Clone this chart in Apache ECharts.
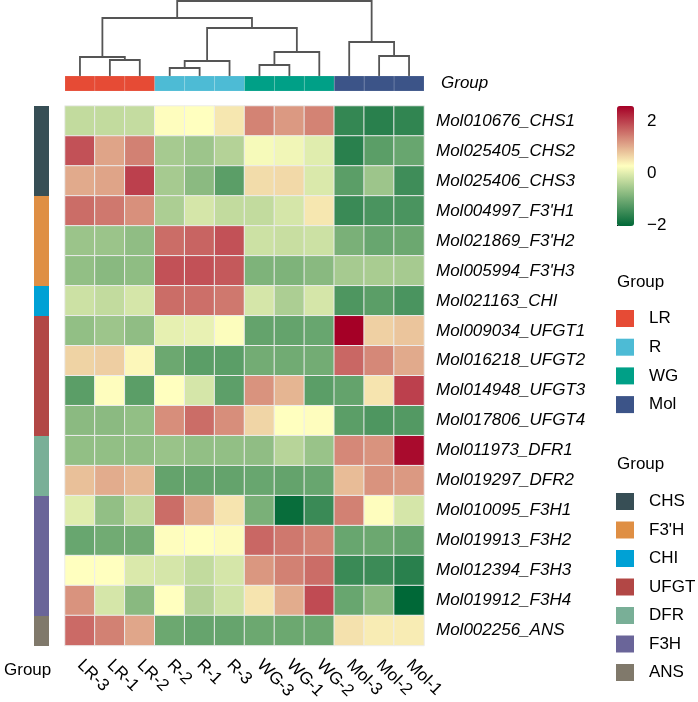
<!DOCTYPE html>
<html>
<head>
<meta charset="utf-8">
<script src="https://cdn.jsdelivr.net/npm/echarts@6.0.0/dist/echarts.min.js"></script>
<style>
  html, body { margin: 0; padding: 0; background: #fff; }
  #chart { width: 698px; height: 702px; }
</style>
</head>
<body>
<div id="chart"></div>
<script>
// samples (columns), in dendrogram order
const colNames = ['LR-3', 'LR-1', 'LR-2', 'R-2', 'R-1', 'R-3', 'WG-3', 'WG-1', 'WG-2', 'Mol-3', 'Mol-2', 'Mol-1']
const colGroups = ['LR', 'LR', 'LR', 'R', 'R', 'R', 'WG', 'WG', 'WG', 'Mol', 'Mol', 'Mol']
const colGroupNames = ['LR', 'R', 'WG', 'Mol']
const colGroupColors = ['#E64B35', '#4DBBD5', '#00A087', '#3C5488']

// genes (rows)
const geneNames = [
  'Mol010676_CHS1', 'Mol025405_CHS2', 'Mol025406_CHS3',
  "Mol004997_F3'H1", "Mol021869_F3'H2", "Mol005994_F3'H3",
  'Mol021163_CHI',
  'Mol009034_UFGT1', 'Mol016218_UFGT2', 'Mol014948_UFGT3', 'Mol017806_UFGT4',
  'Mol011973_DFR1', 'Mol019297_DFR2',
  'Mol010095_F3H1', 'Mol019913_F3H2', 'Mol012394_F3H3', 'Mol019912_F3H4',
  'Mol002256_ANS'
]
const geneGroups = ['CHS', 'CHS', 'CHS', "F3'H", "F3'H", "F3'H", 'CHI', 'UFGT', 'UFGT', 'UFGT', 'UFGT',
  'DFR', 'DFR', 'F3H', 'F3H', 'F3H', 'F3H', 'ANS']
const geneGroupNames = ['CHS', "F3'H", 'CHI', 'UFGT', 'DFR', 'F3H', 'ANS']
const geneGroupColors = ['#374E55', '#DF8F44', '#00A1D5', '#B24745', '#79AF97', '#6A6599', '#80796B']

// row-scaled expression (z-score), one array per gene
const zScores = [
  [-0.27, -0.27, -0.25, 0.30, 0.28, 0.50, 1.40, 1.20, 1.40, -1.55, -1.65, -1.58],
  [1.85, 1.10, 1.42, -0.52, -0.60, -0.40, 0.20, 0.15, 0.00, -1.65, -1.20, -1.08],
  [1.05, 1.10, 2.00, -0.52, -0.77, -1.20, 0.60, 0.62, -0.05, -1.20, -0.60, -1.45],
  [1.60, 1.50, 1.28, -0.47, -0.10, -0.27, -0.27, -0.10, 0.50, -1.50, -1.35, -1.35],
  [-0.62, -0.62, -0.72, 1.60, 1.68, 1.85, -0.18, -0.22, -0.18, -0.92, -1.08, -1.05],
  [-0.70, -0.78, -0.73, 1.85, 1.85, 1.78, -0.88, -0.88, -0.78, -0.52, -0.50, -0.52],
  [-0.18, -0.27, -0.10, 1.60, 1.58, 1.50, -0.10, -0.47, -0.10, -1.32, -1.20, -1.35],
  [-0.70, -0.60, -0.72, 0.05, 0.07, 0.25, -1.12, -1.12, -1.08, 2.58, 0.70, 0.80],
  [0.68, 0.72, 0.35, -1.05, -1.20, -1.20, -0.98, -1.00, -0.98, 1.65, 1.35, 1.05],
  [-1.20, 0.30, -1.20, 0.28, -0.10, -1.18, 1.25, 0.95, -1.20, -1.12, 0.52, 2.00],
  [-0.77, -0.77, -0.70, 1.30, 1.60, 1.30, 0.66, 0.28, 0.30, -1.20, -1.32, -1.27],
  [-0.70, -0.70, -0.70, -0.64, -0.70, -0.70, -0.72, -0.37, -0.64, 1.35, 1.25, 2.48],
  [0.85, 1.03, 0.92, -1.12, -1.12, -1.12, -1.08, -1.12, -1.08, 0.88, 1.25, 1.20],
  [0.00, -0.70, -0.27, 1.60, 1.03, 0.52, -0.92, -1.95, -1.50, 1.42, 0.30, -0.10],
  [-1.08, -1.00, -0.98, 0.30, 0.28, 0.32, 1.65, 1.50, 1.40, -1.08, -1.05, -1.12],
  [0.28, 0.28, -0.05, -0.10, -0.27, -0.10, 1.22, 1.42, 1.60, -1.50, -1.48, -1.65],
  [1.25, -0.10, -0.78, 0.28, -0.40, -0.15, 0.52, 1.03, 1.90, -1.08, -0.78, -2.02],
  [1.62, 1.42, 1.08, -1.05, -1.10, -1.10, -1.05, -1.05, -1.05, 0.55, 0.45, 0.45]
]

// column clustering, hclust style: negative = leaf (1-based column), positive = earlier merge
const treeMerges = [
  [-2, -3, 1.6],
  [-1, 1, 1.9],
  [-4, -5, 0.8],
  [3, -6, 1.5],
  [-7, -8, 1.1],
  [5, -9, 2.4],
  [4, 6, 4.8],
  [2, 7, 5.8],
  [-11, -12, 2.0],
  [-10, 9, 3.4],
  [8, 10, 7.5]
]

const scaleMin = -2.02
const scaleMax = 2.58
const scaleTicks = [-2, 0, 2]
const rampColors = ['#006837', '#FFFFBF', '#A50026']

const font = 'Liberation Sans, Arial, sans-serif'

// tree node positions in leaf units
const treeNodes = []
const nodeOf = (ref) => ref < 0 ? { x: -ref - 0.5, h: 0 } : treeNodes[ref - 1]
treeMerges.forEach(m => {
  const a = nodeOf(m[0])
  const b = nodeOf(m[1])
  treeNodes.push({ a: a, b: b, x: (a.x + b.x) / 2, h: m[2] })
})

const heatData = []
zScores.forEach((row, r) => {
  row.forEach((v, c) => heatData.push([c, r, v]))
})

// one filled cell on a category grid
const cellRender = (seam) => (params, api) => {
  const p = api.coord([api.value(0), api.value(1)])
  const s = api.size([1, 1])
  return {
    type: 'rect',
    shape: { x: p[0] - s[0] / 2, y: p[1] - s[1] / 2, width: s[0], height: s[1] },
    style: { fill: api.visual('color'), stroke: seam ? 'rgba(255,255,255,0.12)' : null, lineWidth: 1 }
  }
}

const colAnnoSeries = colGroupNames.map((g, i) => ({
  name: g,
  type: 'custom',
  xAxisIndex: 1,
  yAxisIndex: 1,
  itemStyle: { color: colGroupColors[i] },
  renderItem: cellRender(true),
  data: colGroups.map((cg, c) => cg === g ? [c, 0] : null).filter(d => d)
}))

const rowAnnoSeries = geneGroupNames.map((g, i) => ({
  name: g,
  type: 'custom',
  xAxisIndex: 2,
  yAxisIndex: 2,
  itemStyle: { color: geneGroupColors[i] },
  renderItem: cellRender(false),
  data: geneGroups.map((gg, r) => gg === g ? [0, r] : null).filter(d => d)
}))

const titleStyle = { fontSize: 17, fontWeight: 'normal', color: '#000', fontFamily: font }
const legendText = { fontSize: 17, color: '#000', lineHeight: 17, padding: [0, 0, 0, 10], fontFamily: font }

const chart = echarts.init(document.getElementById('chart'))
chart.setOption({
  animation: false,
  backgroundColor: '#fff',
  textStyle: { fontFamily: font, color: '#000' },
  title: [
    { text: 'Group', left: 617, top: 274, padding: 0, textStyle: titleStyle },
    { text: 'Group', left: 617, top: 456, padding: 0, textStyle: titleStyle },
    { text: 'Group', left: 4, top: 662, padding: 0, textStyle: titleStyle }
  ],
  legend: [
    {
      data: colGroupNames,
      orient: 'vertical',
      left: 616,
      top: 310,
      padding: 0,
      icon: 'rect',
      itemWidth: 18,
      itemHeight: 17,
      itemGap: 11.7,
      selectedMode: false,
      textStyle: legendText
    },
    {
      data: geneGroupNames,
      orient: 'vertical',
      left: 616,
      top: 493,
      padding: 0,
      icon: 'rect',
      itemWidth: 18,
      itemHeight: 17,
      itemGap: 11.5,
      selectedMode: false,
      textStyle: legendText
    }
  ],
  visualMap: {
    type: 'continuous',
    seriesIndex: 0,
    min: scaleMin,
    max: scaleMax,
    calculable: false,
    hoverLink: false,
    left: 617,
    top: 106,
    padding: 0,
    itemWidth: 17,
    itemHeight: 120,
    text: null,
    inRange: { color: rampColors }
  },
  grid: [
    { left: 65, top: 106, width: 359, height: 540 }, // heatmap
    { left: 65, top: 76, width: 359, height: 15 }, // column annotation
    { left: 34, top: 106, width: 15, height: 540 }, // row annotation
    { left: 65, top: 1, width: 359, height: 75 }, // dendrogram
    { left: 617, top: 106, width: 17, height: 120 } // colour scale ticks
  ],
  xAxis: [
    {
      gridIndex: 0,
      type: 'category',
      data: colNames,
      axisLine: { show: false },
      axisTick: { show: false },
      splitLine: { show: false },
      axisLabel: { interval: 0, rotate: -45, margin: 17, fontSize: 17, color: '#000', fontFamily: font }
    },
    { gridIndex: 1, type: 'category', data: colNames, show: false },
    { gridIndex: 2, type: 'category', data: ['Group'], show: false },
    { gridIndex: 3, type: 'value', min: 0, max: colNames.length, show: false },
    { gridIndex: 4, type: 'value', show: false }
  ],
  yAxis: [
    {
      gridIndex: 0,
      type: 'category',
      data: geneNames,
      inverse: true,
      position: 'right',
      axisLine: { show: false },
      axisTick: { show: false },
      splitLine: { show: false },
      axisLabel: { interval: 0, margin: 12, fontSize: 17, fontStyle: 'italic', color: '#000', fontFamily: font }
    },
    {
      gridIndex: 1,
      type: 'category',
      data: ['Group'],
      position: 'right',
      axisLine: { show: false },
      axisTick: { show: false },
      axisLabel: { margin: 17, fontSize: 17, fontStyle: 'italic', color: '#000', fontFamily: font }
    },
    { gridIndex: 2, type: 'category', data: geneNames, inverse: true, show: false },
    { gridIndex: 3, type: 'value', min: 0, max: 7.5, show: false },
    {
      gridIndex: 4,
      type: 'value',
      min: scaleMin,
      max: scaleMax,
      position: 'right',
      splitLine: { show: false },
      axisLine: { show: false },
      axisTick: { show: true, length: 7, customValues: scaleTicks, lineStyle: { color: '#000', width: 1 } },
      axisLabel: {
        customValues: scaleTicks,
        margin: 13,
        fontSize: 17,
        color: '#000',
        fontFamily: font,
        formatter: v => String(v).replace('-', '\u2212')
      }
    }
  ],
  series: [
    {
      type: 'heatmap',
      xAxisIndex: 0,
      yAxisIndex: 0,
      data: heatData,
      itemStyle: { borderColor: '#ececec', borderWidth: 1 },
      emphasis: { disabled: true }
    },
    {
      // column dendrogram
      type: 'custom',
      xAxisIndex: 3,
      yAxisIndex: 3,
      silent: true,
      renderItem: (params, api) => {
        const n = treeNodes[params.dataIndex]
        const pts = [[n.a.x, n.a.h], [n.a.x, n.h], [n.b.x, n.h], [n.b.x, n.b.h]].map(p => api.coord(p))
        return { type: 'polyline', shape: { points: pts }, style: { stroke: '#555555', lineWidth: 1.8, fill: null } }
      },
      data: treeNodes.map(n => [n.x, n.h])
    },
    ...colAnnoSeries,
    ...rowAnnoSeries
  ]
})
</script>
</body>
</html>
